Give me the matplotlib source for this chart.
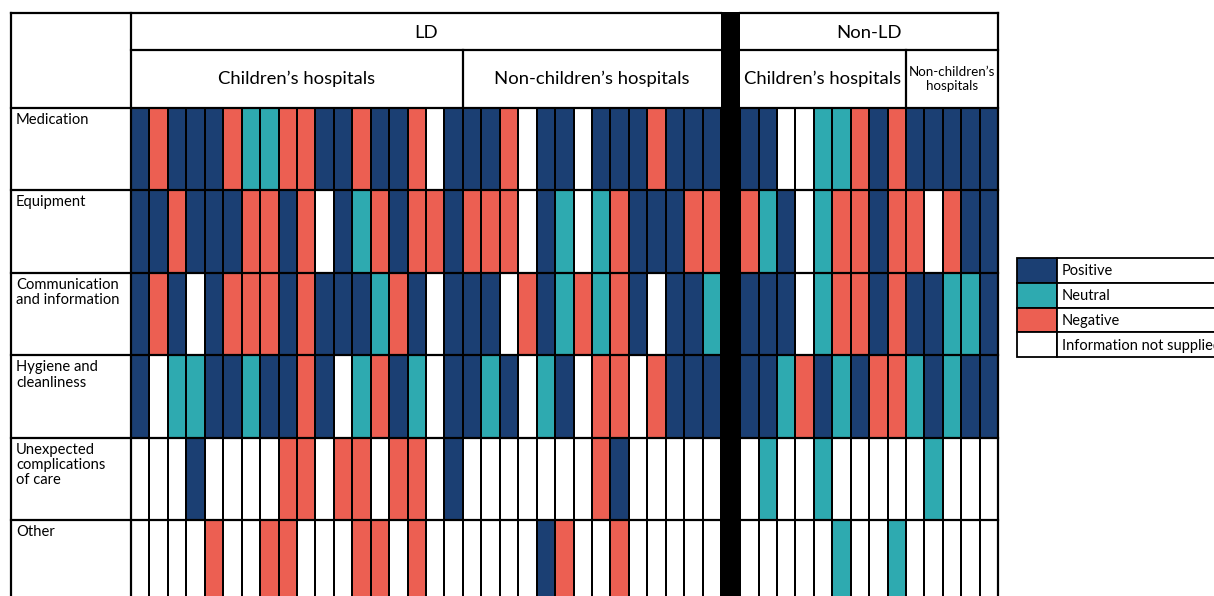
import numpy as np
import matplotlib.pyplot as plt
from matplotlib.colors import ListedColormap
from matplotlib.patches import Rectangle

plt.rcParams['font.family'] = ['Lato', 'DejaVu Sans']

# Row categories and outcome legend
categories = ["Medication", "Equipment", "Communication\nand information",
              "Hygiene and\ncleanliness", "Unexpected\ncomplications\nof care", "Other"]
outcome_labels = ["Positive", "Neutral", "Negative", "Information not supplied"]
outcome_colors = ["#1b3f73", "#2eaab0", "#ec5f52", "#ffffff"]
code_map = {"P": 0, "U": 1, "N": 2, "-": 3}

# P = positive, U = neutral, N = negative, - = not supplied
ld_children = [
    "PNPPPNUUNNPPNPPN-P",
    "PPNPPPNNPN-PUNPNNP",
    "PNP-PNNNPNPPPUNP-P",
    "P-UUPPUPPNP-UNPU-P",
    "---P----NN-NN-NN-P",
    "----N--NN---NN-N--",
]
ld_nonchildren = [
    "PPN-PP-PPPNPPP",
    "NNN-PU-UNPPPNN",
    "PP-NPUNUNP-PPU",
    "PUP-UP-NN-NPPP",
    "-------NP-----",
    "----PN--N-----",
]
nonld_children = [
    "PP--UUNPN",
    "NUP-UNNPN",
    "PPP-UNNPN",
    "PPUNPUPNN",
    "-U--U----",
    "-----U--U",
]
nonld_nonchildren = [
    "PPPPP",
    "N-NPP",
    "PPUUP",
    "UPUPP",
    "-U---",
    "-----",
]

group_titles = ["LD", "Non-LD"]
sub_titles = [["Children\u2019s hospitals", "Non-children\u2019s hospitals"],
              ["Children\u2019s hospitals", "Non-children\u2019s\nhospitals"]]


def to_codes(*blocks):
    rows = []
    for r in range(len(categories)):
        rows.append([code_map[c] for b in blocks for c in b[r]])
    return np.array(rows)


ld = to_codes(ld_children, ld_nonchildren)
nonld = to_codes(nonld_children, nonld_nonchildren)

# layout in pixels
W, H = 1214, 596
left, lab_w = 11, 120
top, h1, h2 = 13, 37, 58
col_w = 18.44
gap = 19
row_h = 82.4
body_top = top + h1 + h2

fig = plt.figure(figsize=(W / 100, H / 100), dpi=100)
cmap = ListedColormap(outcome_colors)

x_ld0 = left + lab_w
x_ld1 = x_ld0 + ld.shape[1] * col_w
x_nl0 = x_ld1 + gap
x_nl1 = x_nl0 + nonld.shape[1] * col_w
body_bot = body_top + len(categories) * row_h

for codes, x0, x1 in [(ld, x_ld0, x_ld1), (nonld, x_nl0, x_nl1)]:
    ax = fig.add_axes([x0 / W, 1 - body_bot / H, (x1 - x0) / W, (body_bot - body_top) / H])
    ax.pcolormesh(codes, cmap=cmap, vmin=-0.5, vmax=3.5, edgecolors="black", linewidth=1.1)
    ax.set_xlim(0, codes.shape[1])
    ax.set_ylim(codes.shape[0], 0)
    ax.axis("off")

# overlay for header, labels, lines, legend
ov = fig.add_axes([0, 0, 1, 1])
ov.set_xlim(0, W)
ov.set_ylim(H, 0)
ov.axis("off")
ov.patch.set_alpha(0)

lw = 1.6
k = dict(color="black", lw=lw, solid_capstyle="projecting")
ov.plot([left, x_ld1], [top, top], **k)
ov.plot([x_nl0, x_nl1], [top, top], **k)
ov.plot([x_ld0, x_ld1], [top + h1, top + h1], **k)
ov.plot([x_nl0, x_nl1], [top + h1, top + h1], **k)
for i in range(len(categories) + 1):
    y = body_top + i * row_h
    ov.plot([left, x_ld1], [y, y], **k)
    ov.plot([x_nl0, x_nl1], [y, y], **k)
ov.plot([left, left], [top, body_bot], **k)
ov.plot([x_ld0, x_ld0], [top, body_bot], **k)
ov.plot([x_nl1, x_nl1], [top, body_bot], **k)

# sub-group dividers
x_ld_mid = x_ld0 + len(ld_children[0]) * col_w
x_nl_mid = x_nl0 + len(nonld_children[0]) * col_w
ov.plot([x_ld_mid, x_ld_mid], [top + h1, body_top], **k)
ov.plot([x_nl_mid, x_nl_mid], [top + h1, body_top], **k)

# thick separator
ov.add_patch(Rectangle((x_ld1, top - 1), gap, H, color="black", lw=0))

# header text
hfs = 13.3
ov.text((x_ld0 + x_ld1) / 2, top + h1 / 2 + 1, group_titles[0], ha="center", va="center", fontsize=hfs)
ov.text((x_nl0 + x_nl1) / 2, top + h1 / 2 + 1, group_titles[1], ha="center", va="center", fontsize=hfs)
ymid = top + h1 + h2 / 2
ov.text((x_ld0 + x_ld_mid) / 2, ymid, sub_titles[0][0], ha="center", va="center", fontsize=hfs)
ov.text((x_ld_mid + x_ld1) / 2, ymid, sub_titles[0][1], ha="center", va="center", fontsize=hfs)
ov.text((x_nl0 + x_nl_mid) / 2, ymid, sub_titles[1][0], ha="center", va="center", fontsize=hfs)
ov.text((x_nl_mid + x_nl1) / 2, ymid, sub_titles[1][1], ha="center", va="center", fontsize=9.6,
        linespacing=1.15)

# row labels
for i, name in enumerate(categories):
    ov.text(left + 5, body_top + i * row_h + 5, name, ha="left", va="top", fontsize=10.6,
            linespacing=1.12)

# legend
lx, ly, lrow, sw = 1017, 258, 24.8, 40
for i, (lab, col) in enumerate(zip(outcome_labels, outcome_colors)):
    y = ly + i * lrow
    ov.add_patch(Rectangle((lx, y), sw, lrow, facecolor=col, edgecolor="black", lw=1.3))
    ov.add_patch(Rectangle((lx + sw, y), 300, lrow, facecolor="white", edgecolor="black", lw=1.3))
    ov.text(lx + sw + 5, y + lrow / 2 + 1, lab, ha="left", va="center", fontsize=10.5)

fig.savefig("out.png", dpi=100)
